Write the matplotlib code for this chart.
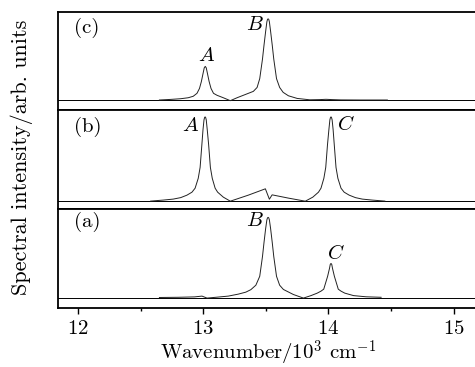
import matplotlib
matplotlib.use('Agg')
import matplotlib.pyplot as plt
from matplotlib.ticker import MultipleLocator

plt.rcParams['font.family'] = 'serif'
plt.rcParams['font.serif'] = ['cmr10']
plt.rcParams['mathtext.fontset'] = 'cm'
plt.rcParams['axes.formatter.use_mathtext'] = True

# panel (c): peaks A (13.02) and B (13.52)
xc = [12.65, 12.74, 12.82, 12.88, 12.92, 12.95, 12.97, 12.985, 12.998, 13.008, 13.016,
      13.024, 13.034, 13.047, 13.062, 13.082, 13.11, 13.16, 13.216, 13.27, 13.32, 13.36,
      13.40, 13.43, 13.451, 13.473, 13.485, 13.498, 13.508, 13.513, 13.518, 13.523, 13.528,
      13.538, 13.551, 13.563, 13.585, 13.61, 13.638, 13.68, 13.75, 13.85, 13.93, 13.98,
      14.03, 14.1, 14.25, 14.47]
yc = [0.102, 0.108, 0.115, 0.125, 0.14, 0.17, 0.22, 0.29, 0.37, 0.43, 0.445,
      0.43, 0.37, 0.29, 0.22, 0.17, 0.15, 0.125, 0.095, 0.125, 0.15, 0.17,
      0.19, 0.23, 0.32, 0.52, 0.66, 0.80, 0.90, 0.925, 0.93, 0.925, 0.90,
      0.80, 0.66, 0.52, 0.32, 0.23, 0.18, 0.145, 0.118, 0.104, 0.106, 0.109,
      0.106, 0.103, 0.102, 0.102]
base_c = 0.102

# panel (b): peaks A (13.02) and C (14.02)
xb = [12.58, 12.68, 12.76, 12.82, 12.87, 12.91, 12.935, 12.96, 12.975, 12.989, 12.998,
      13.006, 13.011, 13.015, 13.019, 13.024, 13.032, 13.043, 13.057, 13.072, 13.095,
      13.115, 13.16, 13.216, 13.36, 13.496, 13.528, 13.55, 13.68, 13.815, 13.875, 13.92,
      13.94, 13.963, 13.978, 13.992, 14.003, 14.011, 14.016, 14.02, 14.024, 14.029, 14.037,
      14.046, 14.06, 14.075, 14.10, 14.125, 14.165, 14.215, 14.27, 14.35, 14.45]
yb = [0.08, 0.09, 0.10, 0.115, 0.14, 0.17, 0.21, 0.31, 0.42, 0.65, 0.80,
      0.90, 0.925, 0.93, 0.925, 0.90, 0.80, 0.65, 0.42, 0.31, 0.21,
      0.17, 0.12, 0.079, 0.14, 0.204, 0.099, 0.143, 0.11, 0.079, 0.12, 0.17,
      0.21, 0.31, 0.42, 0.65, 0.80, 0.90, 0.925, 0.93, 0.925, 0.90, 0.80,
      0.65, 0.42, 0.31, 0.21, 0.17, 0.14, 0.115, 0.10, 0.09, 0.08]
base_b = 0.078

# panel (a): peaks B (13.52) and C (14.02)
xa = [12.65, 12.8, 12.93, 12.99, 13.03, 13.1, 13.2, 13.28, 13.34, 13.38, 13.42, 13.451,
      13.473, 13.485, 13.498, 13.508, 13.513, 13.518, 13.523, 13.528, 13.538, 13.551,
      13.563, 13.585, 13.61, 13.64, 13.72, 13.80, 13.86, 13.91, 13.94, 13.962, 13.993,
      14.008, 14.014, 14.02, 14.026, 14.032, 14.047, 14.078, 14.10, 14.13, 14.2, 14.3, 14.42]
ya = [0.106, 0.108, 0.112, 0.12, 0.10, 0.108, 0.12, 0.14, 0.16, 0.185, 0.23, 0.32,
      0.52, 0.66, 0.80, 0.89, 0.91, 0.915, 0.91, 0.89, 0.80, 0.66,
      0.52, 0.32, 0.23, 0.187, 0.136, 0.10, 0.125, 0.15, 0.17, 0.19, 0.32,
      0.40, 0.44, 0.45, 0.44, 0.40, 0.32, 0.19, 0.17, 0.15, 0.125, 0.113, 0.108]
base_a = 0.105

panels = [
    ('(c)', xc, yc, base_c, [('A', 13.03, 0.55), ('B', 13.415, 0.87)], 0.84),
    ('(b)', xb, yb, base_b, [('A', 12.895, 0.84), ('C', 14.14, 0.855)], 0.83),
    ('(a)', xa, ya, base_a, [('B', 13.415, 0.875), ('C', 14.056, 0.555)], 0.87),
]

fig = plt.figure(figsize=(4.75, 3.67), dpi=100)
bottoms = [0.7003, 0.4305, 0.1608]
heights = [0.267, 0.2698, 0.2698]

for i, (tag, xs, ys, base, peaks, ty) in enumerate(panels):
    ax = fig.add_axes([0.122, bottoms[i], 0.886, heights[i]])
    ax.axhline(base, color='k', lw=0.7)
    ax.plot(xs, ys, color='#222222', lw=0.7)
    ax.set_xlim(11.84, 15.2)
    ax.set_ylim(0, 1)
    ax.set_yticks([])
    for s in ax.spines.values():
        s.set_linewidth(1.3)
    ax.text(0.037, ty, tag, transform=ax.transAxes, fontsize=15, va='center')
    for name, px, py in peaks:
        ax.text(px, py, '$' + name + '$', fontsize=15, ha='center', va='center')
    ax.xaxis.set_major_locator(MultipleLocator(1))
    ax.xaxis.set_minor_locator(MultipleLocator(0.5))
    if i < 2:
        ax.tick_params(axis='x', which='both', bottom=False, labelbottom=False)
    else:
        ax.tick_params(axis='x', which='major', direction='out', length=4.5, width=1,
                       labelsize=15, pad=4)
        ax.tick_params(axis='x', which='minor', direction='out', length=2.5, width=1)
        ax.set_xlabel('Wavenumber/10$^3$ cm$^{-1}$', fontsize=15, labelpad=1)

fig.text(0.046, 0.572, 'Spectral intensity/arb. units', rotation=90, fontsize=16,
         ha='center', va='center')

fig.savefig('out.png', dpi=100)
